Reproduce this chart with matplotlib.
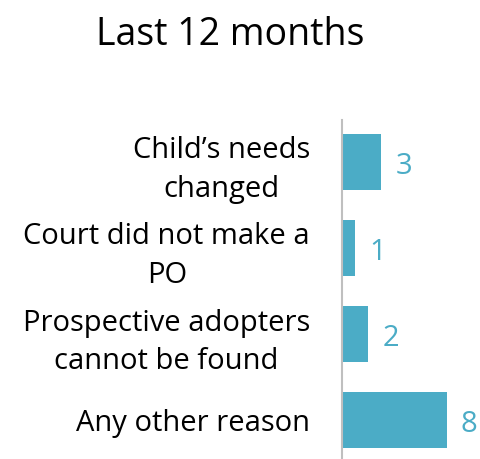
import matplotlib
matplotlib.use("Agg")
import matplotlib.pyplot as plt

categories = ["Child\u2019s needs\nchanged", "Court did not make a\nPO",
              "Prospective adopters\ncannot be found", "Any other reason"]
values = [3, 1, 2, 8]
title = "Last 12 months"

bar_color = "#4BACC6"
plt.rcParams['font.family'] = ['Open Sans', 'DejaVu Sans']

fig = plt.figure(figsize=(4.8, 4.59), dpi=100)
ax = fig.add_axes([342/480, 0, 138/480, 1 - 120/459])

ypos = list(range(len(categories)))
ax.barh(ypos, values, height=0.66, color=bar_color)
ax.set_xlim(0, 10.51)
ax.set_ylim(3.453, -0.488)

for y, v in zip(ypos, values):
    ax.annotate(str(v), (v, y), xytext=(10, -3), textcoords='offset points',
                ha='left', va='center', fontsize=21, color=bar_color)

ax.set_yticks(ypos)
ax.set_yticklabels(categories, fontsize=21)
for t in ax.get_yticklabels():
    t.set_multialignment('center')
    t.set_linespacing(1.42)
ax.tick_params(axis='y', length=0, pad=23)
ax.set_xticks([])
for s in ['top', 'right', 'bottom']:
    ax.spines[s].set_visible(False)
ax.spines['left'].set_color('#BFBFBF')
ax.spines['left'].set_linewidth(1.5)

fig.text(230/480, 1 - 35/459, title, ha='center', va='center', fontsize=27)

fig.savefig("out.png", dpi=100)
